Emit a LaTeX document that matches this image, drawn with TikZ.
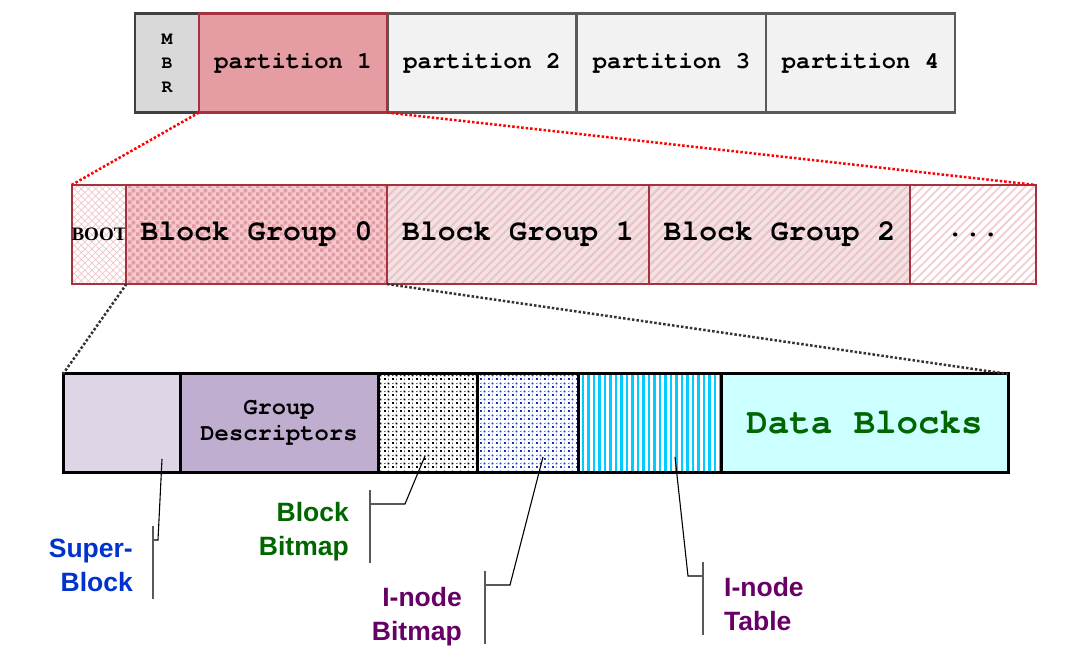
\documentclass[tikz,border=0pt]{standalone}
\usepackage{fontspec}
\setmainfont{Liberation Serif}
\setsansfont{Liberation Sans}
\setmonofont{TeX Gyre Cursor}
\usetikzlibrary{patterns,patterns.meta}

\definecolor{mbrfill}{HTML}{D9D9D9}
\definecolor{mbrline}{HTML}{404040}
\definecolor{p1fill}{HTML}{E59CA3}
\definecolor{p1line}{HTML}{A5323F}
\definecolor{partfill}{HTML}{F2F2F2}
\definecolor{partline}{HTML}{5A5A5A}
\definecolor{grpline}{HTML}{A5323F}
\definecolor{chkbg}{HTML}{F3C9CD}
\definecolor{chkfg}{HTML}{E59AA2}
\definecolor{stripebg}{HTML}{F1E3E4}
\definecolor{stripefg}{HTML}{EFC1C6}
\definecolor{meshpink}{HTML}{EFC6CA}
\definecolor{sblav}{HTML}{DED5E6}
\definecolor{gdlav}{HTML}{BFAECF}
\definecolor{dotblue}{HTML}{1038D0}
\definecolor{tabcyan}{HTML}{00CCFF}
\definecolor{dbcyan}{HTML}{CCFFFF}
\definecolor{dbgreen}{HTML}{006600}
\definecolor{sbblue}{HTML}{0033CC}
\definecolor{inpurple}{HTML}{660066}

\tikzdeclarepattern{
  name=checks, type=uncolored,
  bottom left={(0pt,0pt)}, top right={(8pt,8pt)}, tile size={(8pt,8pt)},
  code={\fill (0pt,0pt) rectangle (4pt,4pt); \fill (4pt,4pt) rectangle (8pt,8pt);}
}
\tikzdeclarepattern{
  name=bitdots, type=uncolored,
  bottom left={(0pt,0pt)}, top right={(8pt,8pt)}, tile size={(8pt,8pt)},
  code={\fill (0pt,0pt) rectangle (2pt,2pt); \fill (4pt,4pt) rectangle (6pt,6pt);
        \fill (4.5pt,0.5pt) rectangle (5.5pt,1.5pt); \fill (0.5pt,4.5pt) rectangle (1.5pt,5.5pt);}
}

\begin{document}
\begin{tikzpicture}[x=1pt,y=-1pt,
    slot/.style = {rectangle,inner sep=0pt,outer sep=0pt},
    partbox/.style = {slot,draw=partline,fill=partfill,line width=2.5pt,minimum height=99pt,minimum width=189pt,
                      font=\ttfamily\bfseries\fontsize{23.8}{28}\selectfont},
    grpbox/.style = {slot,draw=grpline,line width=2pt,minimum height=99pt,
                     font=\ttfamily\bfseries\fontsize{29.7}{34}\selectfont},
    fsbox/.style = {slot,draw=black,line width=3pt,minimum height=98pt},
    lbl/.style = {inner sep=0pt,font=\sffamily\bfseries\fontsize{26.5}{34}\selectfont},
    zoomred/.style = {red,dotted,line width=2.5pt},
    zoomblack/.style = {black!80,dotted,line width=2.5pt},
    lead/.style = {black,line width=1.1pt},
    brk/.style = {black!65,line width=1.6pt}]
\useasboundingbox (0,0) rectangle (1066,652);

% partition table
\node[partbox,fill=mbrfill,draw=mbrline,minimum width=64pt,align=center,
      font=\ttfamily\bfseries\fontsize{18}{24}\selectfont] (mbr) at (167,63) {M\\B\\R};
\foreach \i/\x in {2/482,3/671.5,4/860.5} \node[partbox] (p\i) at (\x,63) {partition \i};
\node[partbox,fill=p1fill,draw=p1line,minimum width=188pt] (p1) at (293,63) {partition 1};

% block groups of partition 1
\node[grpbox,minimum width=54pt,font=\rmfamily\bfseries\fontsize{19}{22}\selectfont,
      preaction={fill=white},
      preaction={pattern={Lines[angle=45,distance=5pt,line width=0.7pt]},pattern color=meshpink},
      pattern={Lines[angle=-45,distance=5pt,line width=0.7pt]},pattern color=meshpink] (boot) at (99,234.5) {BOOT};
\node[grpbox,minimum width=261pt,preaction={fill=chkbg},pattern=checks,pattern color=chkfg] (bg0) at (256.5,234.5) {Block Group 0};
\foreach \i/\x in {1/518,2/779.5}
    \node[grpbox,minimum width=262pt,preaction={fill=stripebg},
          pattern={Lines[angle=45,distance=6pt,line width=2pt]},pattern color=stripefg] (bg\i) at (\x,234.5) {Block Group \i};
\node[grpbox,minimum width=126pt,preaction={fill=white},
      pattern={Lines[angle=45,distance=6pt,line width=1.8pt]},pattern color=stripefg!80] (more) at (973,234.5) {...};

% inside block group 0
\node[fsbox,fill=sblav,minimum width=117pt] (sb) at (121.5,423) {};
\node[fsbox,fill=gdlav,minimum width=198pt,align=center,
      font=\ttfamily\bfseries\fontsize{23.8}{26}\selectfont] (gd) at (279,423) {Group\\Descriptors};
\node[fsbox,minimum width=99pt,preaction={fill=white},pattern=bitdots,pattern color=black] (bbm) at (427.5,423) {};
\node[fsbox,minimum width=101pt,preaction={fill=white},pattern=bitdots,pattern color=dotblue] (ibm) at (527.5,423) {};
\node[fsbox,minimum width=143pt,preaction={fill=white},
      pattern={Lines[angle=90,distance=5.5pt,line width=2.2pt]},pattern color=tabcyan] (itab) at (649.5,423) {};
\node[fsbox,fill=dbcyan,minimum width=287pt,text=dbgreen,
      font=\ttfamily\bfseries\fontsize{35.8}{40}\selectfont] (data) at (864.5,423) {Data Blocks};

% zoom lines
\draw[zoomred] (p1.south west) -- (boot.north west);
\draw[zoomred] (p1.south east) -- (more.north east);
\draw[zoomblack] (boot.south east) -- (sb.north west);
\draw[zoomblack] (bg0.south east) -- (data.north east);

% labels
\node[lbl,text=sbblue,anchor=north east,align=right] (lsb) at (133,539) {Super-\\Block};
\node[lbl,text=dbgreen,anchor=north east,align=right] (lbb) at (349,502) {Block\\Bitmap};
\node[lbl,text=inpurple,anchor=north east,align=right] (lib) at (462,587) {I-node\\Bitmap};
\node[lbl,text=inpurple,anchor=north west,align=left] (lit) at (724,577) {I-node\\Table};

% leader lines
\coordinate (sbtip) at (162,459);   \coordinate (sbjoin) at (153,540);
\coordinate (bbtip) at (425,456);   \coordinate (bbjoin) at (370,504);
\coordinate (ibtip) at (543,457);   \coordinate (ibjoin) at (485,585);
\coordinate (ittip) at (675,457);   \coordinate (itjoin) at (703,576);
\draw[lead] (sbtip) -- (158,540) -- (sbjoin);
\draw[lead] (bbtip) -- (405,504) -- (bbjoin);
\draw[lead] (ibtip) -- (510,585) -- (ibjoin);
\draw[lead] (ittip) -- (688,576) -- (itjoin);
\foreach \c in {sbjoin,bbjoin,ibjoin,itjoin} \draw[brk] (\c) ++(0,-14) -- ++(0,73);
\end{tikzpicture}
\end{document}
